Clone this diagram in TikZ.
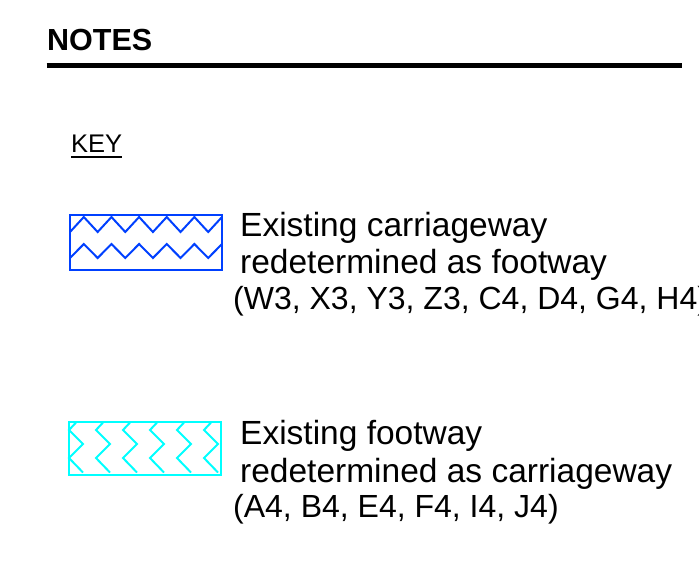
\documentclass[tikz,border=0pt]{standalone}
\usepackage{fontspec}
\setmainfont{Liberation Sans}
\definecolor{keyblue}{RGB}{0,64,255}
\definecolor{keycyan}{RGB}{0,255,255}
\tikzset{
  txt/.style={anchor=base west, inner sep=0pt, font=\fontsize{33.5}{37}\selectfont},
  txtsmall/.style={anchor=base west, inner sep=0pt, font=\fontsize{32}{36}\selectfont},
  bluehatch/.style={draw=keyblue, line width=2pt, line join=miter},
  cyanhatch/.style={draw=keycyan, line width=2pt, line join=miter}
}
\begin{document}
\begin{tikzpicture}[x=1pt,y=-1pt]
\useasboundingbox (0,0) rectangle (699,563);
% heading
\node[anchor=base west, inner sep=0pt, font=\fontsize{30.5}{34}\selectfont\bfseries] (notes) at (47,50) {NOTES};
\draw[line width=4.5pt] (46.5,65.5) -- (682,65.5);
% key
\node[anchor=base west, inner sep=0pt, font=\fontsize{25.5}{30}\selectfont] (key) at (71,152) {KEY};
\draw[line width=1.5pt] ([yshift=-5pt]key.base west) -- ([yshift=-5pt]key.base east);
% blue key box
\draw[bluehatch] (70,215) rectangle (222,270);
\draw[bluehatch] (70,232) \foreach \k in {0,...,4} { -- ({83.82+27.64*\k},217) -- ({97.64+27.64*\k},232) } -- (222,217);
\draw[bluehatch] (70,258) \foreach \k in {0,...,4} { -- ({83.82+27.64*\k},244) -- ({97.64+27.64*\k},258) } -- (222,244);
% cyan key box
\draw[cyanhatch] (69,422) rectangle (221,475);
\foreach \k in {0,...,5} {
  \draw[cyanhatch] ({76.5+27*\k},422) -- ({69+27*\k},430) -- ({83+27*\k},444) -- ({69+27*\k},458) -- ({83+27*\k},472.5);
}
% texts
\node[txt] (t1) at (240,236) {Existing carriageway};
\node[txt] (t2) at (240,273) {redetermined as footway};
\node[txtsmall] (t3) at (233,309) {(W3, X3, Y3, Z3, C4, D4, G4, H4)};
\node[txt] (t4) at (240,444) {Existing footway};
\node[txt] (t5) at (240,482) {redetermined as carriageway};
\node[txtsmall] (t6) at (233,517) {(A4, B4, E4, F4, I4, J4)};
\end{tikzpicture}
\end{document}
